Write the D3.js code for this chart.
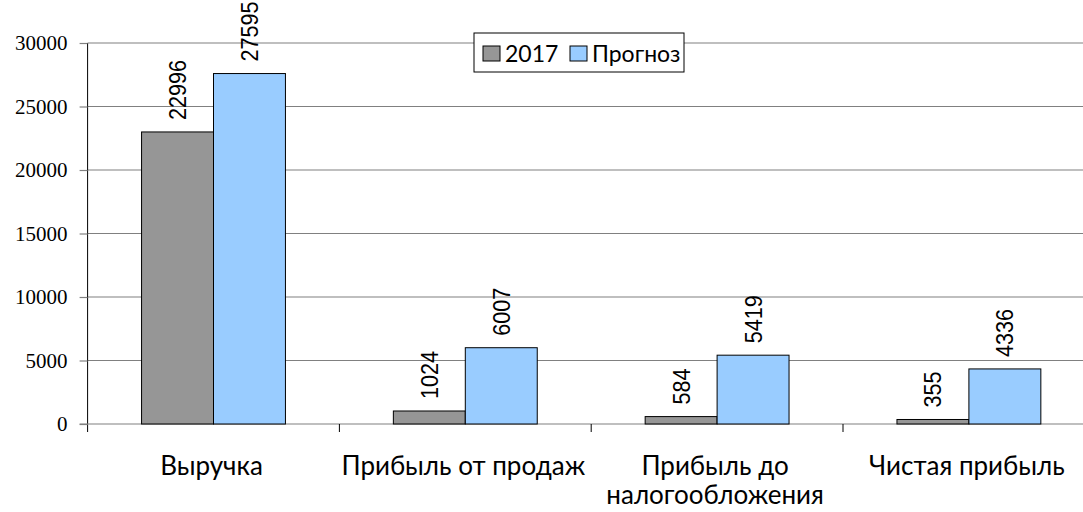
<!doctype html>
<html>
<head>
<style>
  body { margin: 0; background: #fff; }
  svg { display: block; }
</style>
</head>
<body>
    <div class="container"></div>

    <script src="https://d3js.org/d3.v7.min.js"></script>

    <script>
        const categories = [['Выручка'], ['Прибыль от продаж'], ['Прибыль до', 'налогообложения'], ['Чистая прибыль']]
        const series = ['2017', 'Прогноз']
        const values2017 = [22996, 1024, 584, 355]
        const valuesForecast = [27595, 6007, 5419, 4336]
        const yTicks = [0, 5000, 10000, 15000, 20000, 25000, 30000]
        const colors = ['#969696', '#99CCFF']

        const W = 1083, H = 512
        const mLeft = 87.6, mTop = 43, mBottom = 424
        const bandW = 251.8

        const svg = d3.select('.container').append('svg').attr('width', W).attr('height', H)

        const x = d3.scaleBand().domain(d3.range(categories.length))
            .range([mLeft, mLeft + bandW * categories.length]).paddingInner(0).paddingOuter(0)
        const xs = d3.scaleBand().domain(series).range([0, bandW]).paddingInner(0).paddingOuter(0.75)
        const y = d3.scaleLinear().domain([0, 30000]).range([mBottom, mTop])

        // gridlines
        svg.append('g').selectAll('line').data(yTicks.slice(1)).enter().append('line')
            .attr('x1', mLeft).attr('x2', W)
            .attr('y1', d => y(d)).attr('y2', d => y(d))
            .attr('stroke', '#808080').attr('stroke-width', 1.2)

        // y axis
        const yAxis = svg.append('g').attr('transform', `translate(${mLeft},0)`)
            .call(d3.axisLeft(y).tickValues(yTicks).tickSize(8).tickPadding(12).tickFormat(d3.format('d')))
            .attr('font-family', 'Times New Roman, Liberation Serif, serif').attr('font-size', 21)
        yAxis.select('.domain').attr('stroke', '#000').attr('d', `M0,${mTop}V${mBottom + 8}`)
        yAxis.selectAll('.tick line').attr('stroke', '#808080').attr('stroke-width', 1.2)
        yAxis.selectAll('text').attr('fill', '#000')

        // baseline
        svg.append('line').attr('x1', mLeft - 8).attr('x2', W).attr('y1', y(0)).attr('y2', y(0))
            .attr('stroke', '#808080').attr('stroke-width', 1.2)

        // category ticks
        svg.append('g').selectAll('line').data(d3.range(1, categories.length + 1)).enter().append('line')
            .attr('x1', d => mLeft + bandW * d).attr('x2', d => mLeft + bandW * d)
            .attr('y1', mBottom).attr('y2', mBottom + 8)
            .attr('stroke', '#000')

        const data = []
        categories.forEach((c, i) => {
            data.push({ i, s: series[0], v: values2017[i], c: colors[0] })
            data.push({ i, s: series[1], v: valuesForecast[i], c: colors[1] })
        })

        svg.append('g').selectAll('rect').data(data).enter().append('rect')
            .attr('x', d => x(d.i) + xs(d.s))
            .attr('width', xs.bandwidth())
            .attr('y', d => y(d.v))
            .attr('height', d => y(0) - y(d.v))
            .attr('fill', d => d.c)
            .attr('stroke', '#000').attr('stroke-width', 1)

        // value labels (rotated, slightly condensed)
        svg.append('g').selectAll('text').data(data).enter().append('text')
            .attr('transform', d => `translate(${x(d.i) + xs(d.s) + xs.bandwidth() / 2 + 8.5},${y(d.v) - 12}) rotate(-90) scale(0.9,1)`)
            .attr('font-family', 'Liberation Sans, Arial, sans-serif')
            .attr('font-size', 24)
            .text(d => d.v)

        // category labels
        const cl = svg.append('g').selectAll('text').data(categories).enter().append('text')
            .attr('text-anchor', 'middle')
            .attr('font-family', 'Lato, sans-serif')
            .attr('font-size', 26)
            .attr('x', (d, i) => x(i) + bandW / 2 - 2)
            .attr('y', 475)
        cl.selectAll('tspan').data(d => d).enter().append('tspan')
            .attr('x', function () { return d3.select(this.parentNode).attr('x') })
            .attr('dy', (d, j) => j === 0 ? 0 : 29)
            .text(d => d)

        // legend
        const lg = svg.append('g').attr('transform', 'translate(474,33)')
        lg.append('rect').attr('width', 210).attr('height', 39).attr('fill', '#fff').attr('stroke', '#000')
        const items = lg.selectAll('g').data(series).enter().append('g')
            .attr('transform', (d, i) => `translate(${i === 0 ? 9 : 96},0)`)
        items.append('rect').attr('x', 0).attr('y', 13).attr('width', 17).attr('height', 15)
            .attr('fill', (d, i) => colors[i]).attr('stroke', '#000')
        items.append('text').attr('x', 22).attr('y', 29)
            .attr('font-family', 'Lato, sans-serif').attr('font-size', 23)
            .text(d => d)
    </script>
</body>
</html>
